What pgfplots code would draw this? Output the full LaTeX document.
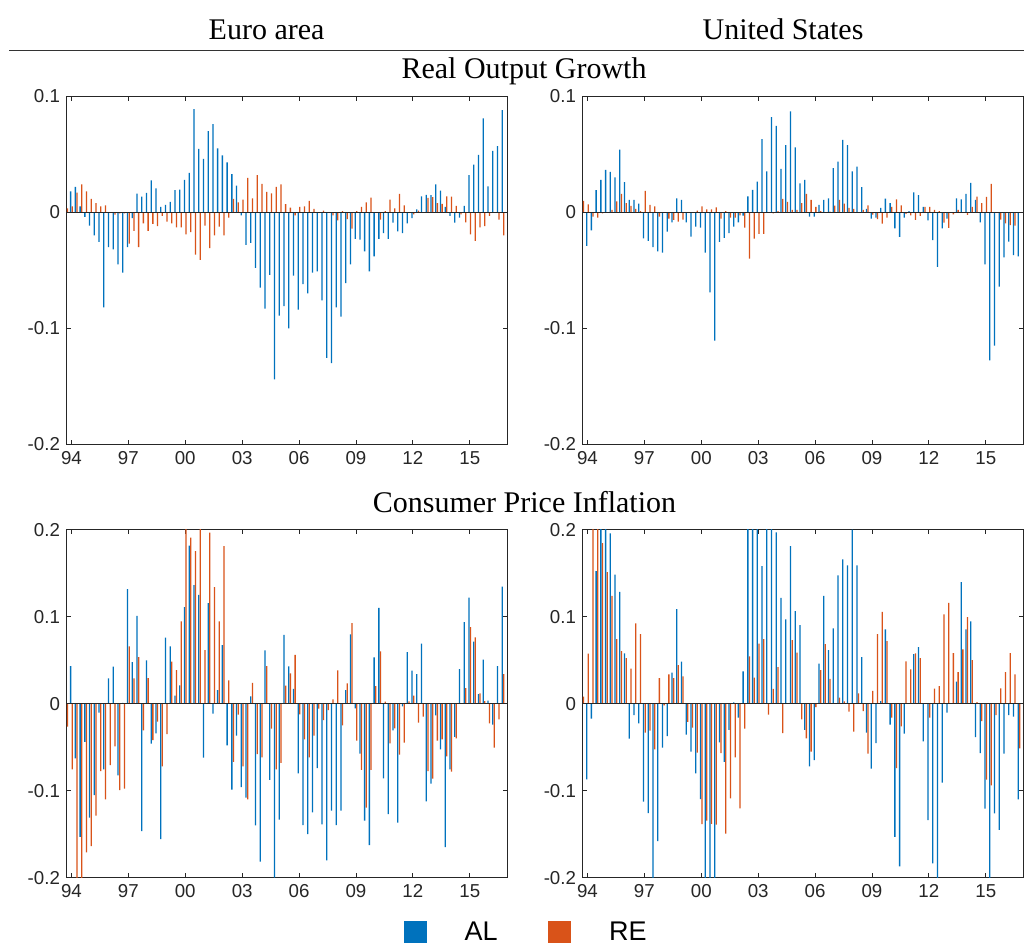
\documentclass[border=0pt]{standalone}
\usepackage{fontspec}
\setmainfont{Liberation Serif}
\newfontfamily\arialfont{Liberation Sans}
\usepackage{pgfplots}
\usepackage{pgfplotstable}
\pgfplotsset{compat=1.18}

\definecolor{alblue}{HTML}{0072BD}
\definecolor{reorange}{HTML}{D95319}
\definecolor{axgray}{HTML}{262626}

% quarter index q: 0 = 1994Q1, ..., 91 = 2016Q4
\pgfplotstableread{
q al re
-1 0 0.0034
0 0.018 0.005
1 0.022 0.017
2 0.005 0.024
3 -0.004 0.018
4 -0.0115 0.0115
5 -0.020 0.008
6 -0.0256 0.005
7 -0.082 0.006
8 -0.030 0.000
9 -0.032 -0.002
10 -0.045 -0.001
11 -0.052 -0.001
12 -0.030 -0.027
13 -0.005 -0.016
14 0.016 -0.030
15 0.0135 -0.0095
16 0.0167 -0.016
17 0.0276 -0.010
18 0.0207 -0.012
19 0.0046 -0.003
20 0.0063 -0.008
21 0.009 -0.0095
22 0.019 -0.013
23 0.0195 -0.013
24 0.028 -0.019
25 0.034 -0.017
26 0.089 -0.0365
27 0.0546 -0.041
28 0.046 -0.0115
29 0.070 -0.031
30 0.076 -0.020
31 0.055 -0.0124
32 0.049 -0.020
33 0.043 -0.0046
34 0.033 0.0115
35 0.023 0.0086
36 -0.0026 0.011
37 -0.028 0.0296
38 -0.0264 0.012
39 -0.048 0.032
40 -0.065 0.0244
41 -0.083 0.0175
42 -0.054 0.0164
43 -0.144 0.022
44 -0.089 0.024
45 -0.081 0.007
46 -0.100 0.004
47 -0.0546 -0.0026
48 -0.084 0.0046
49 -0.062 0.005
50 -0.070 0.0098
51 -0.052 0.003
52 -0.051 0.000
53 -0.076 0.0014
54 -0.1256 0.000
55 -0.130 -0.0026
56 -0.082 -0.007
57 -0.090 0.001
58 -0.061 -0.006
59 -0.045 -0.014
60 -0.023 0.001
61 -0.0236 0.0046
62 -0.0336 0.0086
63 -0.051 0.0126
64 -0.038 0.000
65 -0.023 -0.0063
66 -0.018 0.001
67 -0.023 0.011
68 -0.009 0.0034
69 -0.0164 0.0158
70 -0.018 0.006
71 -0.0095 0.000
72 -0.005 -0.0017
73 0.0026 0.0014
74 0.0138 0.000
75 0.015 0.0124
76 0.0147 0.013
77 0.024 0.008
78 0.0187 0.0072
79 0.0046 0.0138
80 -0.003 0.0135
81 -0.009 0.0055
82 -0.0046 -0.0017
83 0.0055 -0.0086
84 0.032 -0.019
85 0.041 -0.0247
86 0.0494 -0.013
87 0.081 -0.012
88 0.0224 -0.003
89 0.053 0.000
90 0.057 -0.0063
91 0.088 -0.020
}\growthEA

\pgfplotstableread{
q al re
-1 0 0.0098
0 -0.029 0.0069
1 -0.0155 -0.0037
2 0.019 -0.0046
3 0.0279 -0.001
4 0.0365 0.000
5 0.0348 0.002
6 0.030 0.0095
7 0.054 0.0158
8 0.026 0.0078
9 0.0106 0.0055
10 0.0106 0.003
11 0.0075 0.001
12 -0.0224 0.0184
13 -0.0247 0.0063
14 -0.030 0.005
15 -0.0336 -0.0037
16 -0.0348 0.000
17 -0.0167 -0.0055
18 -0.0086 -0.0066
19 0.012 -0.008
20 0.0106 -0.0063
21 -0.0086 0.000
22 -0.021 0.000
23 -0.0124 0.0014
24 -0.0132 0.0052
25 -0.0348 0.0026
26 -0.069 0.0026
27 -0.1106 0.0043
28 -0.0256 -0.0055
29 -0.022 0.0009
30 -0.018 -0.0046
31 -0.0124 -0.0046
32 -0.0086 -0.0026
33 -0.0029 -0.0132
34 0.0138 -0.040
35 0.0193 -0.0227
36 0.0264 -0.0187
37 0.063 -0.0187
38 0.0353 0.000
39 0.082 -0.001
40 0.0744 0.001
41 0.0374 0.0115
42 0.0578 0.009
43 0.087 0.002
44 0.056 0.002
45 0.025 0.008
46 0.028 0.0158
47 -0.0037 0.0106
48 -0.0037 0.0046
49 0.0063 0.001
50 0.0106 0.000
51 0.012 0.0006
52 0.038 0.0057
53 0.0437 0.0106
54 0.0624 0.0075
55 0.058 0.0037
56 0.0353 0.003
57 0.0394 0.000
58 0.0216 0.002
59 0.003 0.006
60 -0.0055 -0.002
61 -0.0046 -0.006
62 0.0037 -0.0098
63 0.0118 -0.0046
64 0.0078 0.0046
65 -0.0138 0.0112
66 -0.0213 0.006
67 -0.0046 -0.0014
68 0.0009 -0.0026
69 0.0172 -0.0066
70 0.0147 -0.003
71 0.0046 0.0046
72 -0.0069 0.0046
73 -0.0239 0.002
74 -0.047 0.001
75 -0.0138 -0.0089
76 -0.0055 -0.0135
77 0.000 -0.0017
78 0.012 0.002
79 0.0112 0.000
80 0.0158 -0.0023
81 0.0253 0.0046
82 0.0106 0.0135
83 -0.0086 0.0078
84 -0.045 0.0132
85 -0.1276 0.0244
86 -0.115 0.000
87 -0.064 -0.0063
88 -0.0388 -0.0095
89 -0.0253 -0.011
90 -0.037 -0.0115
91 -0.038 0.000
}\growthUS

\pgfplotstableread{
q al re
-1 0 -0.0264
0 0.0433 -0.0755
1 -0.0628 -0.23
2 -0.153 -0.23
3 -0.044 -0.171
4 -0.131 -0.1636
5 -0.105 -0.1287
6 -0.0103 -0.0774
7 -0.0755 -0.110
8 0.029 -0.0705
9 0.0425 -0.049
10 -0.0824 -0.0992
11 0.001 -0.0977
12 0.1318 0.0659
13 0.0479 0.029
14 0.1008 0.0536
15 -0.1464 -0.0307
16 0.0498 0.0295
17 -0.046 -0.042
18 -0.034 -0.0207
19 -0.1556 -0.072
20 0.0759 -0.035
21 0.0659 0.0483
22 0.0092 0.0387
23 0.021 0.0946
24 0.111 0.23
25 0.1816 0.191
26 0.1364 0.1755
27 0.125 0.23
28 -0.062 0.0617
29 0.1157 0.1966
30 -0.0115 0.134
31 0.0157 0.0946
32 0.0674 0.181
33 -0.048 0.0268
34 -0.0989 -0.067
35 -0.0368 -0.0126
36 -0.0958 -0.072
37 -0.108 -0.110
38 0.0084 0.0238
39 -0.140 -0.058
40 -0.1816 -0.0617
41 0.0613 0.0433
42 -0.0877 -0.0287
43 -0.2 -0.0755
44 -0.1333 -0.068
45 0.079 0.0207
46 0.043 0.0349
47 0.0169 0.056
48 -0.080 -0.0123
49 -0.1395 -0.041
50 -0.150 -0.0617
51 -0.125 -0.0368
52 -0.074 -0.0057
53 -0.1387 -0.019
54 -0.180 -0.0073
55 -0.123 0.005
56 -0.1395 0.0383
57 -0.123 -0.025
58 0.0157 0.0234
59 0.0797 0.0927
60 -0.0054 -0.0425
61 -0.0575 -0.0762
62 -0.1345 -0.1195
63 -0.1625 -0.0762
64 0.0533 0.0203
65 0.110 0.060
66 -0.0858 0.0023
67 -0.127 -0.0456
68 -0.0307 -0.0284
69 -0.1368 -0.0586
70 -0.003 -0.0448
71 0.0594 0.0027
72 0.038 0.0092
73 0.0341 -0.0218
74 0.069 -0.015
75 -0.1123 -0.0774
76 -0.092 -0.0862
77 -0.0134 -0.0425
78 -0.0525 -0.041
79 -0.165 -0.0605
80 -0.0755 -0.078
81 -0.038 -0.040
82 0.0398 0.000
83 0.0939 0.018
84 0.1218 0.088
85 0.0713 0.0762
86 0.0111 0.0119
87 0.0506 0.003
88 0.0034 -0.0226
89 -0.0241 -0.0506
90 0.0433 -0.018
91 0.1345 0.0341
}\inflEA

\pgfplotstableread{
q al re
-1 0 0.008
0 -0.087 0.0575
1 -0.0172 0.25
2 0.1525 0.22
3 0.23 0.1847
4 0.23 0.1513
5 0.1958 0.1238
6 0.1483 0.0743
7 0.1284 0.0605
8 0.0579 0.0525
9 -0.0402 0.0402
10 -0.013 0.0923
11 -0.0226 0.080
12 -0.1126 -0.0333
13 -0.1257 -0.031
14 -0.23 -0.0525
15 -0.158 0.0295
16 -0.0506 -0.002
17 -0.0372 0.0337
18 0.0356 0.0295
19 0.1088 0.0444
20 0.0483 0.0314
21 -0.0356 -0.021
22 -0.055 -0.0276
23 -0.080 -0.0563
24 -0.1096 -0.1383
25 -0.23 -0.1345
26 -0.23 -0.138
27 -0.23 -0.139
28 -0.0444 -0.0567
29 -0.067 -0.1494
30 -0.030 -0.1088
31 0.0015 -0.0617
32 -0.016 -0.1203
33 0.0372 -0.0287
34 0.23 0.0544
35 0.23 0.0299
36 0.23 0.069
37 0.1582 0.0743
38 0.23 -0.0126
39 0.23 0.0169
40 0.197 0.0421
41 0.1215 -0.0337
42 0.097 0.000
43 0.1812 0.0732
44 0.1065 0.0586
45 0.0904 -0.018
46 -0.030 -0.040
47 -0.072 -0.055
48 -0.065 -0.004
49 0.046 0.0387
50 0.1238 0.0686
51 0.0617 0.0284
52 0.0866 0.000
53 0.1475 0.0069
54 0.166 0.0027
55 0.159 -0.0092
56 0.2 -0.032
57 0.159 0.0119
58 0.0536 -0.0084
59 -0.0333 -0.0575
60 -0.0747 0.0146
61 -0.0452 0.080
62 0.003 0.1054
63 0.0854 0.072
64 -0.0241 -0.016
65 -0.153 -0.074
66 -0.187 -0.026
67 -0.0345 0.0487
68 0.000 0.0395
69 0.0571 0.0579
70 0.0651 0.0525
71 -0.0433 0.000
72 -0.1337 -0.016
73 -0.1835 0.0172
74 -0.23 0.0203
75 -0.0908 0.1027
76 -0.0103 0.116
77 0.000 0.0582
78 0.0253 0.0364
79 0.1398 0.0625
80 0.0854 0.0996
81 0.0946 0.0502
82 -0.0383 0.0019
83 -0.0567 -0.020
84 -0.1207 -0.0874
85 -0.23 -0.0939
86 -0.126 -0.013
87 -0.145 0.0176
88 -0.0575 0.0364
89 -0.013 0.0582
90 -0.015 0.0337
91 -0.110 -0.0513
}\inflUS

\pgfplotsset{
  panel/.style={
    scale only axis, width=441pt, height=348pt,
    xmin=-1, xmax=92, enlarge x limits=false,
    axis line style={axgray, line width=0.8pt},
    tick style={axgray, line width=0.8pt},
    tick align=inside, major tick length=4.7pt,
    xtick pos=both, ytick pos=both,
    xticklabel pos=lower, yticklabel pos=left,
    xtick={0,12,24,36,48,60,72,84},
    xticklabels={94,97,00,03,06,09,12,15},
    tick label style={font=\arialfont\fontsize{18.7}{22}\selectfont, text=axgray},
    xticklabel shift=3.5pt, yticklabel shift=3.2pt,
  },
  growth/.style={panel, ymin=-0.2, ymax=0.1,
    ytick={-0.2,-0.1,0,0.1}, yticklabels={-0.2,-0.1,0,0.1}},
  inflation/.style={panel, ymin=-0.2, ymax=0.2,
    ytick={-0.2,-0.1,0,0.1,0.2}, yticklabels={-0.2,-0.1,0,0.1,0.2}},
  albar/.style={ybar, bar width=0.27, bar shift=-0.17, fill=alblue, draw=none},
  rebar/.style={ybar, bar width=0.27, bar shift=0.17, fill=reorange, draw=none},
  zeroline/.style={sharp plot, axgray, line width=0.8pt, forget plot},
}

\begin{document}
\begin{tikzpicture}
\useasboundingbox (0pt,0pt) rectangle (1024pt,949pt);

% column and row headings
\node[anchor=base, font=\fontsize{30}{36}\selectfont] at (266.6pt,909.7pt) {Euro area};
\node[anchor=base, font=\fontsize{30}{36}\selectfont] at (783pt,909.7pt) {United States};
\draw[line width=1pt, black!80] (9pt,898.3pt) -- (1024pt,898.3pt);
\node[anchor=base, font=\fontsize{30}{36}\selectfont] at (524pt,870pt) {Real Output Growth};
\node[anchor=base, font=\fontsize{30}{36}\selectfont] at (524.5pt,436.6pt) {Consumer Price Inflation};

% real output growth
\begin{axis}[growth, anchor=south west, at={(66.7pt,504.7pt)}]
  \addplot[albar] table[x=q, y=al] {\growthEA};
  \addplot[rebar] table[x=q, y=re] {\growthEA};
  \addplot[zeroline] coordinates {(-1,0) (92,0)};
\end{axis}
\begin{axis}[growth, anchor=south west, at={(582.7pt,504.7pt)}]
  \addplot[albar] table[x=q, y=al] {\growthUS};
  \addplot[rebar] table[x=q, y=re] {\growthUS};
  \addplot[zeroline] coordinates {(-1,0) (92,0)};
\end{axis}

% consumer price inflation
\begin{axis}[inflation, anchor=south west, at={(66.7pt,71.3pt)},
    legend columns=2,
    legend image code/.code={\fill[#1] (0pt,-11.35pt) rectangle (22.7pt,11.35pt);},
    legend style={at={(1.040,-0.156)}, anchor=center, draw=none, fill=none,
      font=\arialfont\fontsize{27}{30}\selectfont,
      nodes={inner sep=0pt},
      /tikz/every odd column/.append style={column sep=38pt},
      /tikz/every even column/.append style={column sep=50.7pt}}]
  \addplot[albar] table[x=q, y=al] {\inflEA};
  \addlegendentry{AL}
  \addplot[rebar] table[x=q, y=re] {\inflEA};
  \addlegendentry{RE}
  \addplot[zeroline] coordinates {(-1,0) (92,0)};
\end{axis}
\begin{axis}[inflation, anchor=south west, at={(582.7pt,71.3pt)}]
  \addplot[albar] table[x=q, y=al] {\inflUS};
  \addplot[rebar] table[x=q, y=re] {\inflUS};
  \addplot[zeroline] coordinates {(-1,0) (92,0)};
\end{axis}
\end{tikzpicture}
\end{document}
